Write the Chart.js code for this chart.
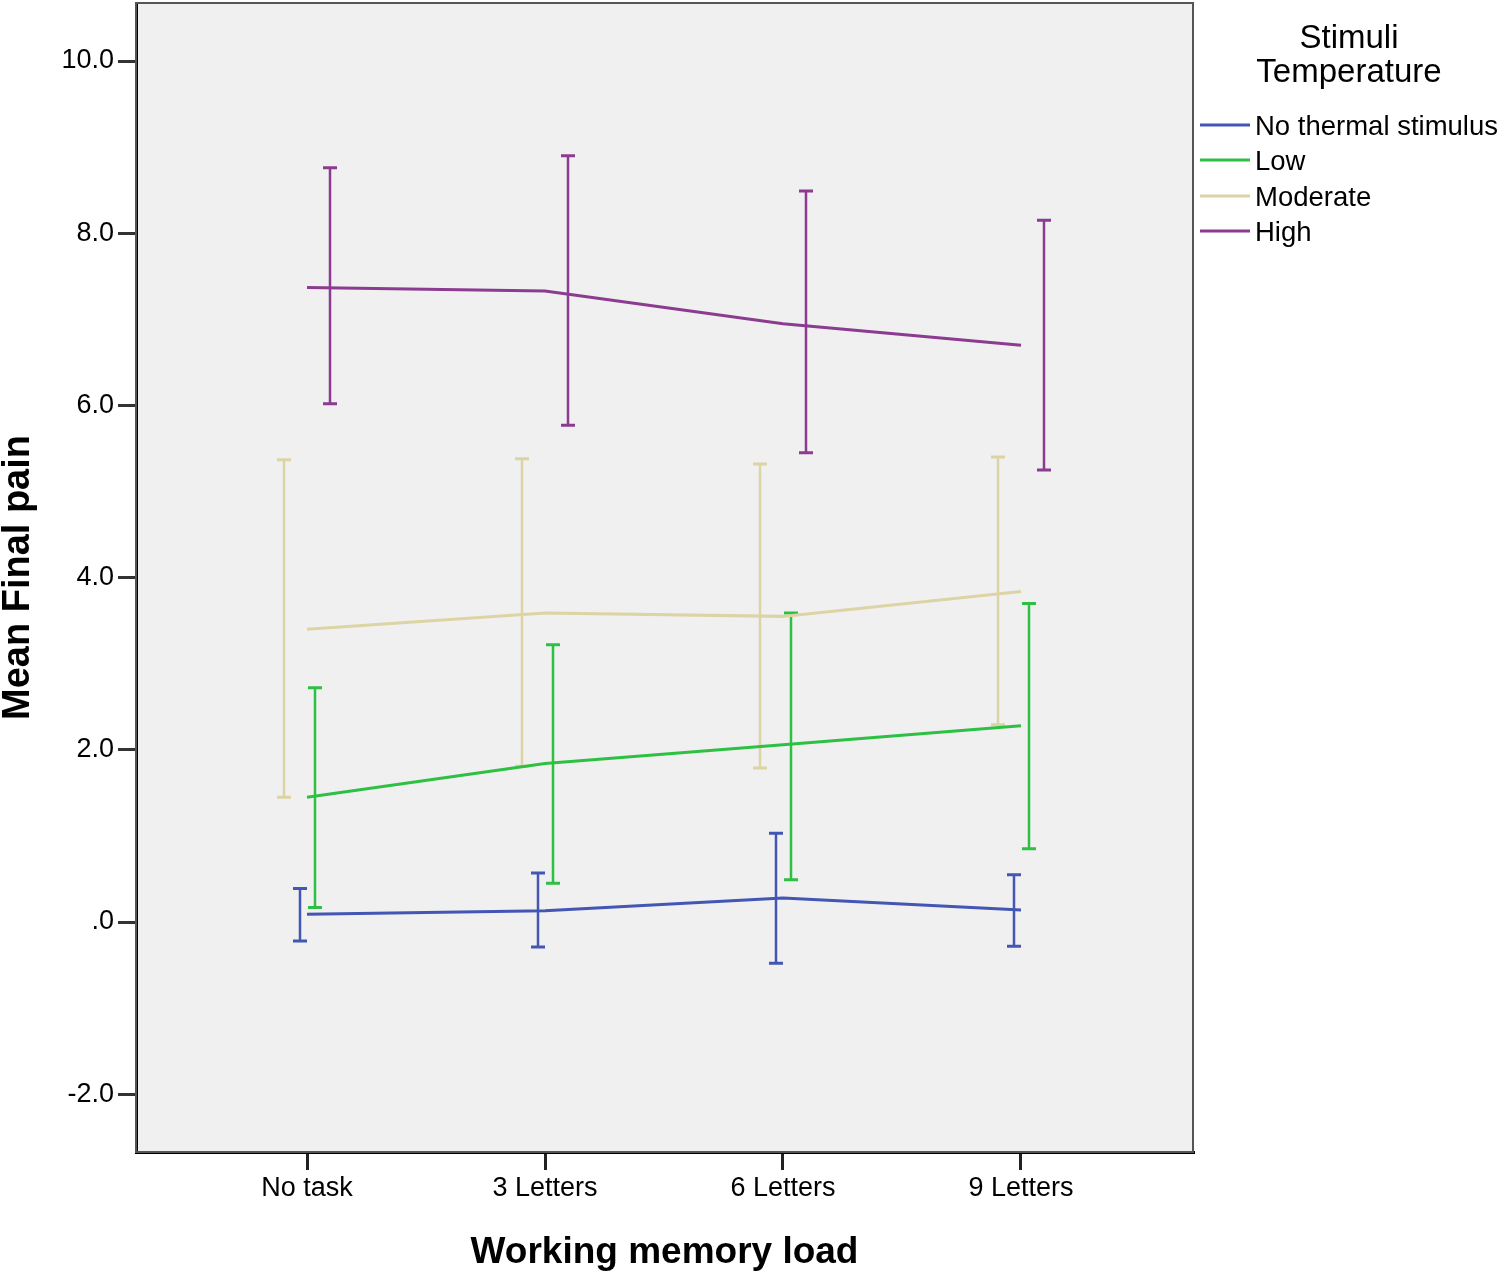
<!DOCTYPE html>
<html>
<head>
<meta charset="utf-8">
<title>Mean Final pain by working memory load</title>
<script src="https://cdn.jsdelivr.net/npm/chart.js@4.4.1/dist/chart.umd.min.js"></script>
<style>
    html, body { margin: 0; padding: 0; background: #fff; }
    #wrap { width: 1500px; height: 1273px; position: relative; }
</style>
</head>
<body>
<div id="wrap"><canvas id="chart"></canvas></div>
<script>
// categories on the x axis
const categories = ['No task', '3 Letters', '6 Letters', '9 Letters'];
const yTickValues = [-2, 0, 2, 4, 6, 8, 10];

const seriesNames = ['No thermal stimulus', 'Low', 'Moderate', 'High'];

// means
const noStimMean = [0.09, 0.13, 0.28, 0.14];
const lowMean = [1.45, 1.84, 2.06, 2.28];
const moderateMean = [3.40, 3.59, 3.55, 3.84];
const highMean = [7.37, 7.33, 6.95, 6.70];

// error bar ends (upper / lower)
const noStimUpper = [0.39, 0.57, 1.03, 0.55];
const noStimLower = [-0.22, -0.29, -0.48, -0.28];
const lowUpper = [2.72, 3.22, 3.59, 3.70];
const lowLower = [0.17, 0.45, 0.49, 0.85];
const moderateUpper = [5.37, 5.38, 5.32, 5.40];
const moderateLower = [1.45, 1.81, 1.79, 2.29];
const highUpper = [8.76, 8.90, 8.49, 8.15];
const highLower = [6.02, 5.77, 5.45, 5.25];

const series = [
    { name: seriesNames[0], mean: noStimMean, upper: noStimUpper, lower: noStimLower, color: '#4356b4', shift: -7 },
    { name: seriesNames[1], mean: lowMean, upper: lowUpper, lower: lowLower, color: '#2ec043', shift: 8 },
    { name: seriesNames[2], mean: moderateMean, upper: moderateUpper, lower: moderateLower, color: '#dcd4a4', shift: -23 },
    { name: seriesNames[3], mean: highMean, upper: highUpper, lower: highLower, color: '#8b3b90', shift: 23 }
];

const FONT = "'Liberation Sans', Arial, sans-serif";

// grey plot area + frame
const plotFrame = {
    id: 'plotFrame',
    beforeDraw(chart) {
        const { ctx, chartArea: a } = chart;
        ctx.save();
        ctx.fillStyle = '#f0f0f0';
        ctx.fillRect(a.left, a.top, a.right - a.left, a.bottom - a.top);
        ctx.restore();
    },
    afterDraw(chart) {
        const { ctx, chartArea: a } = chart;
        ctx.save();
        ctx.strokeStyle = '#555';
        ctx.lineWidth = 2;
        ctx.strokeRect(a.left, a.top, a.right - a.left, a.bottom - a.top);
        ctx.restore();
    }
};

// error bars, slightly shifted per series like SPSS does
const errorBars = {
    id: 'errorBars',
    beforeDatasetsDraw(chart) {
        const { ctx } = chart;
        const xs = chart.scales.x;
        const ys = chart.scales.y;
        ctx.save();
        series.forEach(s => {
            ctx.strokeStyle = s.color;
            s.mean.forEach((m, i) => {
                const x = xs.getPixelForValue(i) + s.shift;
                const yTop = ys.getPixelForValue(s.upper[i]);
                const yBot = ys.getPixelForValue(s.lower[i]);
                ctx.lineWidth = 2.5;
                ctx.beginPath();
                ctx.moveTo(x, yTop);
                ctx.lineTo(x, yBot);
                ctx.stroke();
                ctx.lineWidth = 3;
                ctx.beginPath();
                ctx.moveTo(x - 7, yTop);
                ctx.lineTo(x + 7, yTop);
                ctx.moveTo(x - 7, yBot);
                ctx.lineTo(x + 7, yBot);
                ctx.stroke();
            });
        });
        ctx.restore();
    }
};

// legend on the right
const sideLegend = {
    id: 'sideLegend',
    afterDraw(chart) {
        const { ctx } = chart;
        ctx.save();
        ctx.fillStyle = '#000';
        ctx.textAlign = 'center';
        ctx.textBaseline = 'middle';
        ctx.font = '33px ' + FONT;
        ctx.fillText('Stimuli', 1349, 39);
        ctx.fillText('Temperature', 1349, 73);
        ctx.textAlign = 'left';
        ctx.font = '27.5px ' + FONT;
        const rows = [125, 160, 196, 231];
        series.forEach((s, i) => {
            ctx.strokeStyle = s.color;
            ctx.lineWidth = 3;
            ctx.beginPath();
            ctx.moveTo(1200, rows[i]);
            ctx.lineTo(1250, rows[i]);
            ctx.stroke();
            ctx.fillText(s.name, 1255, rows[i] + 2);
        });
        ctx.restore();
    }
};

const datasets = series.map(s => ({
    label: s.name,
    data: s.mean.map((v, i) => ({ x: i, y: v })),
    borderColor: s.color,
    borderWidth: 3,
    pointRadius: 0,
    tension: 0,
    fill: false
}));

new Chart(document.getElementById('chart'), {
    type: 'line',
    data: { datasets: datasets },
    options: {
        responsive: true,
        maintainAspectRatio: false,
        animation: false,
        events: [],
        layout: { padding: { top: 3, right: 307, left: 0, bottom: 0 } },
        plugins: {
            legend: { display: false },
            tooltip: { enabled: false }
        },
        scales: {
            x: {
                type: 'linear',
                min: -0.7185,
                max: 3.7227,
                afterFit(scale) {
                    scale.height = 121;
                    scale.paddingLeft = 0;
                    scale.paddingRight = 0;
                },
                afterBuildTicks(scale) {
                    scale.ticks = categories.map((c, i) => ({ value: i }));
                },
                ticks: {
                    color: '#000',
                    font: { family: FONT, size: 27 },
                    padding: 2,
                    maxRotation: 0,
                    autoSkip: false,
                    callback: v => categories[v]
                },
                grid: { drawOnChartArea: false, drawTicks: true, tickLength: 18, color: '#222', lineWidth: 3 },
                border: { display: true, color: '#000', width: 3 },
                title: {
                    display: true,
                    text: 'Working memory load',
                    color: '#000',
                    font: { family: FONT, size: 37, weight: 'bold', lineHeight: 1 },
                    padding: { top: 2, bottom: 2 }
                }
            },
            y: {
                type: 'linear',
                min: -2.671,
                max: 10.674,
                afterFit(scale) {
                    scale.width = 136;
                    scale.paddingTop = 0;
                    scale.paddingBottom = 0;
                },
                afterBuildTicks(scale) {
                    scale.ticks = yTickValues.map(v => ({ value: v }));
                },
                ticks: {
                    color: '#000',
                    font: { family: FONT, size: 27 },
                    padding: 4,
                    callback: v => (v === 0 ? '.0' : v.toFixed(1))
                },
                grid: { drawOnChartArea: false, drawTicks: true, tickLength: 18, color: '#333', lineWidth: 3 },
                border: { display: true, color: '#000', width: 3 },
                title: {
                    display: true,
                    text: 'Mean Final pain',
                    color: '#000',
                    font: { family: FONT, size: 38, weight: 'bold', lineHeight: 1 },
                    padding: { top: 0, bottom: 0 }
                }
            }
        }
    },
    plugins: [plotFrame, errorBars, sideLegend]
});
</script>
</body>
</html>
